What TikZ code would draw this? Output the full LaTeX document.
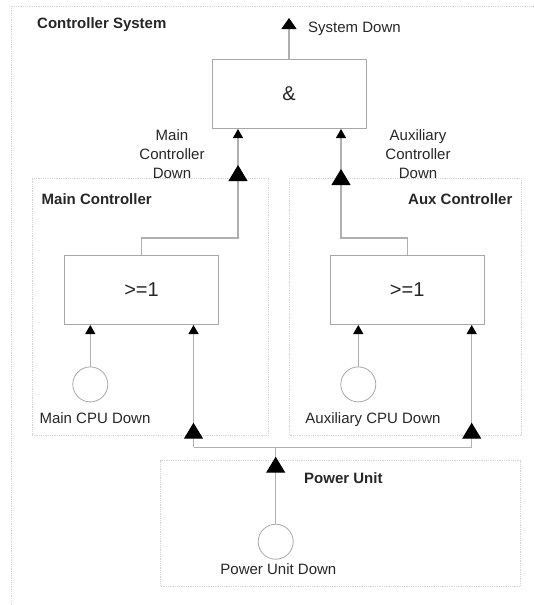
\documentclass[tikz,border=0pt]{standalone}
\usepackage{fontspec}
\setmainfont{Liberation Sans}
\usetikzlibrary{arrows.meta}

\definecolor{gatecol}{HTML}{A8A8A8}
\definecolor{wirecol}{HTML}{B0B0B0}
\definecolor{groupcol}{HTML}{D4D4D4}
\definecolor{txt}{HTML}{262626}

\begin{document}
\begin{tikzpicture}[x=1pt,y=-1pt,
  gate/.style={draw=gatecol, line width=1pt, minimum width=154pt, minimum height=69pt,
    inner sep=0pt, text=txt, font=\fontsize{20}{24}\selectfont},
  group/.style={draw=groupcol, densely dotted, line width=0.8pt, inner sep=0pt},
  basic/.style={circle, draw=gatecol, line width=0.8pt, minimum size=35pt, inner sep=0pt},
  lbl/.style={inner sep=0pt, text=txt, font=\fontsize{15}{18.7}\selectfont},
  title/.style={inner sep=0pt, text=txt, font=\fontsize{15}{18.7}\selectfont\bfseries},
  wire/.style={draw=wirecol, line width=1.1pt},
  smalltip/.style={-{Triangle[length=9pt,width=10pt,color=black]}},
  toptip/.style={-{Triangle[length=11pt,width=15pt,color=black]}},
  bigtip/.style={-{Triangle[length=16pt,width=19pt,color=black]}},
]
\useasboundingbox (0,0) rectangle (534,605);

% outer frame of the whole system (runs off the page at right and bottom)
\begin{scope}
  \clip (0,0) rectangle (534,605);
  \draw[group] (11.5,6) rectangle (560,640);
\end{scope}

% sub-system frames
\node[group, minimum width=236.5pt, minimum height=257pt] (mainGrp) at (150.25,306.5) {};
\node[group, minimum width=231.5pt, minimum height=257pt] (auxGrp) at (405.25,306.5) {};
\node[group, minimum width=359.6pt, minimum height=125.3pt] (pwrGrp) at (340.5,523.35) {};

% gates
\node[gate] (andG) at (289,94) {\&};
\node[gate] (orL) at (141.5,290) {>=1};
\node[gate] (orR) at (407.2,290) {>=1};

% basic events
\node[basic] (cpuL) at (90.3,384.4) {};
\node[basic] (cpuR) at (358.3,384.4) {};
\node[basic] (pwr) at (275.7,541.7) {};

% routing points
\coordinate (sysOut) at (289,18);
\coordinate (mCorner) at (238,238);
\coordinate (aCorner) at (341,238);
\coordinate (mPort) at (238,165);
\coordinate (aPort) at (341,169);
\coordinate (busL) at (193.5,447.3);
\coordinate (busM) at (275.7,447.3);
\coordinate (busR) at (471.7,447.3);
\coordinate (lPort) at (193.5,422.7);
\coordinate (rPort) at (471.7,422.7);
\coordinate (pPort) at (275.7,456.7);

% output of the top gate
\draw[wire, toptip] (andG.north) -- (sysOut);

% controller outputs into the AND gate
\draw[wire, smalltip] (orL.north) |- (mCorner) -- (andG.south -| mCorner);
\draw[wire, smalltip] (orR.north) |- (aCorner) -- (andG.south -| aCorner);
\draw[wire, bigtip] (mCorner) -- (mPort);
\draw[wire, bigtip] (aCorner) -- (aPort);

% CPU failures into the OR gates
\draw[wire, smalltip] (cpuL.north) -- (orL.south -| cpuL.north);
\draw[wire, smalltip] (cpuR.north) -- (orR.south -| cpuR.north);

% power unit distribution
\draw[wire] (busL) -- (busR);
\draw[wire] (pwr.north) -- (busM);
\draw[wire, bigtip] (pwr.north) -- (pPort);
\draw[wire, smalltip] (busL) -- (orL.south -| busL);
\draw[wire, smalltip] (busR) -- (orR.south -| busR);
\draw[wire, bigtip] (busL) -- (lPort);
\draw[wire, bigtip] (busR) -- (rPort);

% labels
\node[title, anchor=base west] (sysT) at (37,28.4) {Controller System};
\node[lbl, anchor=base west] (sdT) at (308,32.4) {System Down};
\node[lbl, align=center] (mcT) at (172,154) {Main\\Controller\\Down};
\node[lbl, align=center] (acT) at (418,154) {Auxiliary\\Controller\\Down};
\node[title, anchor=base west] (mainT) at (41.5,204.8) {Main Controller};
\node[title, anchor=base east] (auxT) at (512.6,204.4) {Aux Controller};
\node[lbl, anchor=base] (cpuLT) at (95,423.8) {Main CPU Down};
\node[lbl, anchor=base] (cpuRT) at (373,423.4) {Auxiliary CPU Down};
\node[title, anchor=base west] (pwrT) at (304,483.4) {Power Unit};
\node[lbl, anchor=base] (pwrDT) at (278.4,574.4) {Power Unit Down};
\end{tikzpicture}
\end{document}
